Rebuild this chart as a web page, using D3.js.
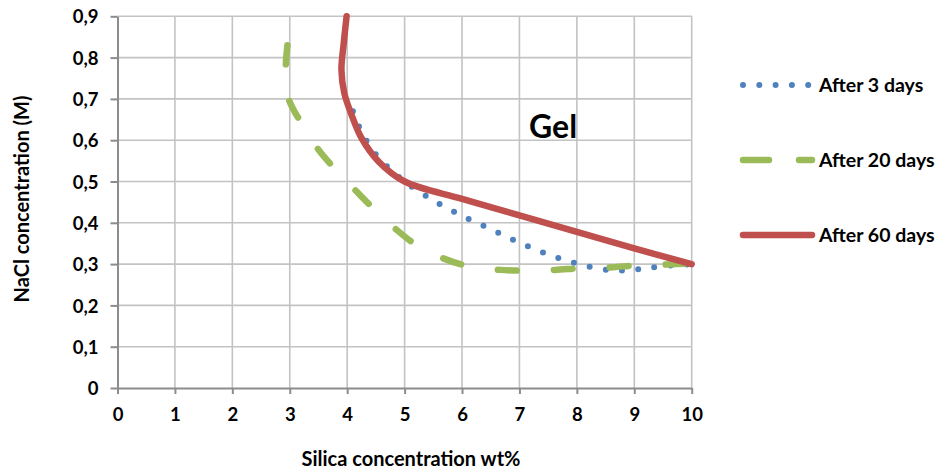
<!DOCTYPE html>
<html>
<head>
<meta charset="utf-8">
<script src="https://cdn.jsdelivr.net/npm/d3@7"></script>
<style>
  html, body { margin: 0; padding: 0; background: #fff; }
  svg { display: block; }
  text { font-family: Lato, "Open Sans", sans-serif; font-weight: bold; fill: #000; }
</style>
</head>
<body>
<svg id="chart" width="941" height="473"></svg>
<script>
// Gel boundary: silica wt% (x) vs NaCl molarity (y) after different ageing times
const seriesNames = ["After 3 days", "After 20 days", "After 60 days"];

const silica3d = [4.10, 4.25, 4.50, 4.76, 5.00, 5.44, 5.94, 6.46, 6.97, 7.49, 8.03, 8.58, 8.87, 9.15, 9.43, 10.0];
const nacl3d   = [0.67, 0.62, 0.565, 0.528, 0.50, 0.459, 0.421, 0.387, 0.354, 0.324, 0.300, 0.285, 0.285, 0.289, 0.294, 0.300];

const silica20d = [2.96, 2.93, 2.97, 3.08, 3.25, 3.50, 3.79, 4.17, 4.47, 4.86, 5.21, 5.67, 6.14, 6.66, 7.10, 7.62, 8.05, 8.58, 9.04, 9.56, 10.0];
const nacl20d   = [0.83, 0.775, 0.705, 0.67, 0.632, 0.577, 0.530, 0.475, 0.433, 0.383, 0.346, 0.314, 0.294, 0.286, 0.284, 0.286, 0.290, 0.292, 0.297, 0.299, 0.302];

const silica60d = [3.99, 3.94, 3.90, 3.95, 4.08, 4.25, 4.55, 5.00, 6.00, 7.00, 8.00, 9.00, 10.0];
const nacl60d   = [0.90, 0.835, 0.77, 0.714, 0.66, 0.605, 0.548, 0.50, 0.458, 0.418, 0.378, 0.338, 0.300];

const xTickValues = [0, 1, 2, 3, 4, 5, 6, 7, 8, 9, 10];
const yTickValues = [0, 0.1, 0.2, 0.3, 0.4, 0.5, 0.6, 0.7, 0.8, 0.9];

const colors = ["#4F81BD", "#9BBB59", "#C0504D"];

const svg = d3.select("#chart");
const plot = { left: 117.5, right: 691.7, top: 16.3, bottom: 388 };

const x = d3.scaleLinear().domain([0, 10]).range([plot.left, plot.right]);
const y = d3.scaleLinear().domain([0, 0.9]).range([plot.bottom, plot.top]);

const fmtY = v => v === 0 ? "0" : d3.format(".1f")(v).replace(".", ",");

// Gridlines
const grid = svg.append("g");
grid.selectAll("line.gx").data(xTickValues.slice(1)).join("line")
  .attr("x1", d => x(d)).attr("x2", d => x(d))
  .attr("y1", plot.top).attr("y2", plot.bottom)
  .attr("stroke", "#c3c3c3").attr("stroke-width", 1.6);
grid.selectAll("line.gy").data(yTickValues.slice(1)).join("line")
  .attr("x1", plot.left).attr("x2", plot.right)
  .attr("y1", d => y(d)).attr("y2", d => y(d))
  .attr("stroke", "#c3c3c3").attr("stroke-width", 1.6);

// Axes
const xAxis = svg.append("g").attr("transform", `translate(0,${plot.bottom})`)
  .call(d3.axisBottom(x).tickValues(xTickValues).tickSize(6).tickSizeOuter(0).tickPadding(14));
const yAxis = svg.append("g").attr("transform", `translate(${plot.left},0)`)
  .call(d3.axisLeft(y).tickValues(yTickValues).tickFormat(fmtY).tickSize(7).tickSizeOuter(0).tickPadding(12));
[xAxis, yAxis].forEach(a => {
  a.select(".domain").attr("stroke", "#8c8c8c").attr("stroke-width", 2);
  a.selectAll(".tick line").attr("stroke", "#8c8c8c").attr("stroke-width", 2);
  a.selectAll(".tick text").style("font-size", "18.5px")
    .style("font-family", "Lato, 'Open Sans', sans-serif").style("font-weight", "bold").attr("fill", "#000");
});
yAxis.selectAll(".tick text").attr("dy", "0.36em");

// Axis titles
svg.append("text").attr("x", 411).attr("y", 466).attr("text-anchor", "middle")
  .style("font-size", "20px").text("Silica concentration wt%");
svg.append("text").attr("transform", "translate(29,199) rotate(-90)").attr("text-anchor", "middle")
  .style("font-size", "20px").text("NaCl concentration (M)");

// Region label
svg.append("text").attr("x", 529).attr("y", 138).style("font-size", "32px").text("Gel");

// Series
const line = d3.line().x(d => x(d[0])).y(d => y(d[1])).curve(d3.curveCatmullRom.alpha(0.5));
const series = [
  { pts: d3.zip(silica3d, nacl3d), dash: "0,16.3" },
  { pts: d3.zip(silica20d, nacl20d), dash: "19,37" },
  { pts: d3.zip(silica60d, nacl60d), dash: null }
];
series.forEach((s, i) => {
  svg.append("path").datum(s.pts)
    .attr("d", line)
    .attr("fill", "none")
    .attr("stroke", colors[i])
    .attr("stroke-width", i === 0 ? 6 : 6.5)
    .attr("stroke-linecap", "round")
    .attr("stroke-linejoin", "round")
    .attr("stroke-dasharray", s.dash);
});

// Legend
const legendY = [85, 160, 235];
const legendDash = ["0,16.3", "26,30", null];
const lg = svg.append("g");
seriesNames.forEach((name, i) => {
  lg.append("line")
    .attr("x1", 743).attr("x2", 812)
    .attr("y1", legendY[i]).attr("y2", legendY[i])
    .attr("stroke", colors[i]).attr("stroke-width", i === 0 ? 6 : 6.5)
    .attr("stroke-linecap", "round")
    .attr("stroke-dasharray", legendDash[i]);
  lg.append("text").attr("x", 819).attr("y", legendY[i]).attr("dy", "0.36em")
    .style("font-size", "19.5px").text(name);
});
</script>
</body>
</html>
